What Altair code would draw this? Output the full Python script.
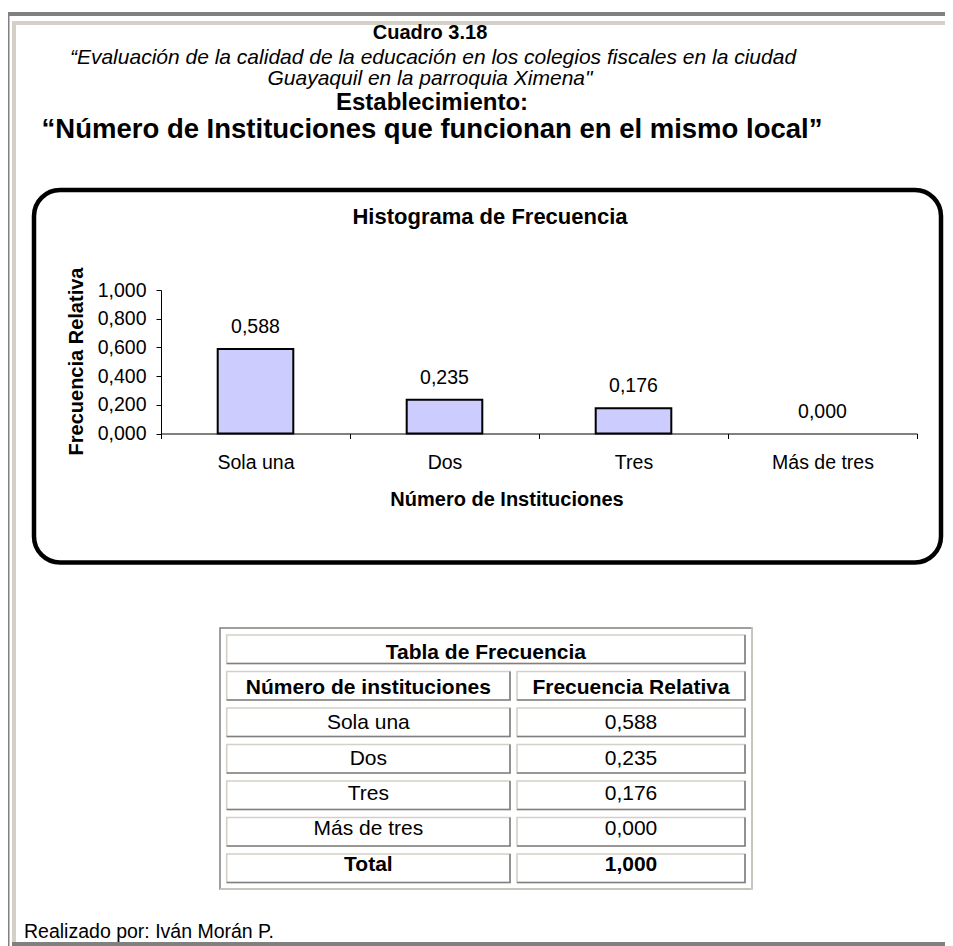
import altair as alt
import pandas as pd

# ---------------- data ----------------
categories = ["Sola una", "Dos", "Tres", "Más de tres"]
rel_freq = [0.588, 0.235, 0.176, 0.000]
total_freq = 1.000
y_ticks = [0.0, 0.2, 0.4, 0.6, 0.8, 1.0]

cuadro = "Cuadro 3.18"
subtitle_1 = "“Evaluación de la calidad de la educación en los colegios fiscales en la ciudad"
subtitle_2 = "Guayaquil en la parroquia Ximena\""
heading_1 = "Establecimiento:"
heading_2 = "“Número de Instituciones que funcionan en el mismo local”"
chart_title = "Histograma de Frecuencia"
x_title = "Número de Instituciones"
y_title = "Frecuencia Relativa"
table_title = "Tabla de Frecuencia"
table_head = ["Número de instituciones", "Frecuencia Relativa"]
total_label = "Total"
footer = "Realizado por: Iván Morán P."

# ---------------- layout (page pixels) ----------------
FONT = "Liberation Sans"
PLOT_X0, PLOT_Y0 = 161, 290
PLOT_W, PLOT_H = 756, 143.5
CHART_W, CHART_H = 937, 938
DARK, LIGHT = "#808080", "#d4d0c8"


def px(x):
    return x - PLOT_X0


def py(y):
    return y - PLOT_Y0


one = alt.Data(values=[{"k": 1}])


def rect(x0, y0, x1, y1, **kw):
    return alt.Chart(one).mark_rect(**kw).encode(
        x=alt.value(px(x0)), x2=alt.value(px(x1)),
        y=alt.value(py(y0)), y2=alt.value(py(y1)))


def label(text, x, y, size, weight="normal", style="normal", align="center",
          baseline="alphabetic", angle=None):
    kw = dict(text=text, font=FONT, fontSize=size, fontWeight=weight,
              fontStyle=style, align=align, baseline=baseline, color="black")
    if angle is not None:
        kw["angle"] = angle
    return alt.Chart(one).mark_text(**kw).encode(x=alt.value(px(x)), y=alt.value(py(y)))


fmt_expr = "replace(format({}, '.3f'), '.', ',')"

layers = []

# page frame
layers += [
    rect(8, 12, 960, 16, color=DARK),
    rect(12, 21, 960, 25, color=LIGHT),
    rect(8, 12, 9.5, 950, color=DARK),
    rect(12, 21, 16, 942, color=LIGHT),
    rect(12, 942, 960, 946, color=DARK),
]

# headings
layers += [
    label(cuadro, 430, 39, 20, weight="bold"),
    label(subtitle_1, 433, 63.5, 21, style="italic"),
    label(subtitle_2, 430, 85, 21, style="italic"),
    label(heading_1, 432, 109.5, 24, weight="bold"),
    label(heading_2, 432, 138, 27.5, weight="bold"),
]

# rounded chart box
layers.append(
    alt.Chart(one).mark_rect(fillOpacity=0, stroke="black", strokeWidth=4.5, cornerRadius=26).encode(
        x=alt.value(px(34)), x2=alt.value(px(941)), y=alt.value(py(190)), y2=alt.value(py(562.5)))
)

layers += [
    label(chart_title, 490, 217, 22, weight="bold", baseline="middle"),
    label(x_title, 507, 500, 20, weight="bold", baseline="middle"),
    label(y_title, 76.5, 361.5, 20, weight="bold", baseline="middle", angle=270),
]

# bar chart
bar_df = pd.DataFrame({"cat": categories, "val": rel_freq})
xenc = alt.X(
    "cat:N", sort=categories, scale=alt.Scale(paddingInner=0, paddingOuter=0),
    axis=alt.Axis(title=None, labelAngle=0, tickBand="extent", tickSize=5, tickColor="black",
                  domainColor="black", labelColor="black", labelFont=FONT, labelFontSize=19.5,
                  labelPadding=15, grid=False, domainWidth=1, tickWidth=1))
yenc = alt.Y(
    "val:Q", scale=alt.Scale(domain=[0, 1], nice=False),
    axis=alt.Axis(title=None, values=y_ticks, labelExpr=fmt_expr.format("datum.value"),
                  tickSize=5, tickColor="black", domainColor="black", labelColor="black",
                  labelFont=FONT, labelFontSize=19.5, labelPadding=10, grid=False,
                  domainWidth=1, tickWidth=1))
bars = alt.Chart(bar_df).mark_bar(width={"band": 0.4}, fill="#ccccff", stroke="black").encode(
    x=xenc, y=yenc,
    strokeWidth=alt.condition("datum.val > 0", alt.value(2), alt.value(0)))
vals = alt.Chart(bar_df).transform_calculate(lbl=fmt_expr.format("datum.val")).mark_text(
    font=FONT, fontSize=19.5, color="black", baseline="middle", dy=-22).encode(
    x=alt.X("cat:N", sort=categories, scale=alt.Scale(paddingInner=0, paddingOuter=0), axis=None),
    y=alt.Y("val:Q", scale=alt.Scale(domain=[0, 1], nice=False), axis=None),
    text="lbl:N")
layers += [bars, vals]

# table
layers += [
    alt.Chart(one).mark_rect(fillOpacity=0, stroke=DARK, strokeWidth=1.5).encode(
        x=alt.value(px(220)), x2=alt.value(px(752)), y=alt.value(py(628)), y2=alt.value(py(889))),
    rect(220, 888.2, 752.8, 889.8, color=LIGHT),
    rect(751.2, 627.2, 752.8, 889.8, color=LIGHT),
]

row_keys = ["title", "header"] + categories + ["total"]
tbl_df = pd.DataFrame({
    "row": row_keys,
    "c1": [table_title, table_head[0]] + categories + [total_label],
    "v": [None, None] + rel_freq + [total_freq],
})
tbl_scale = alt.Scale(domain=row_keys, range=[py(635), py(882.5)],
                      paddingInner=8 / 36.5, paddingOuter=0)
ty = alt.Y("row:N", scale=tbl_scale, axis=None)
ty_end = alt.Y("row:N", scale=tbl_scale, axis=None, bandPosition=1)

COL1 = (226.7, 510)
COL2 = (517, 745)
SPAN = (226.7, 745)


def cell_layers(x0, x1, flt):
    base = alt.Chart(tbl_df).transform_filter(flt)
    return [
        base.mark_rect(fill="white", stroke=LIGHT, strokeWidth=1.6).encode(
            x=alt.value(px(x0)), x2=alt.value(px(x1)), y=ty),
        base.mark_rule(stroke=DARK, strokeWidth=1.6).encode(
            x=alt.value(px(x0)), x2=alt.value(px(x1) + 0.8), y=ty_end),
        base.mark_rect(fill=DARK).encode(
            x=alt.value(px(x1) - 0.8), x2=alt.value(px(x1) + 0.8), y=ty),
    ]


layers += cell_layers(*SPAN, "datum.row == 'title'")
layers += cell_layers(*COL1, "datum.row != 'title'")
layers += cell_layers(*COL2, "datum.row != 'title'")

tbl_text = alt.Chart(tbl_df).transform_calculate(
    c2="isValid(datum.v) ? " + fmt_expr.format("datum.v") + " : '" + table_head[1] + "'")
bold_rows = "datum.row == 'header' || datum.row == 'total'"
plain_rows = "datum.row != 'header' && datum.row != 'total' && datum.row != 'title'"
c1x = (COL1[0] + COL1[1]) / 2
c2x = (COL2[0] + COL2[1]) / 2
spx = (SPAN[0] + SPAN[1]) / 2
layers += [
    tbl_text.transform_filter("datum.row == 'title'").mark_text(
        font=FONT, fontSize=21, fontWeight="bold", color="black", baseline="middle").encode(
        x=alt.value(px(spx)), y=ty, text="c1:N"),
    tbl_text.transform_filter(bold_rows).mark_text(
        font=FONT, fontSize=21, fontWeight="bold", color="black", baseline="middle").encode(
        x=alt.value(px(c1x)), y=ty, text="c1:N"),
    tbl_text.transform_filter(bold_rows).mark_text(
        font=FONT, fontSize=21, fontWeight="bold", color="black", baseline="middle").encode(
        x=alt.value(px(c2x)), y=ty, text="c2:N"),
    tbl_text.transform_filter(plain_rows).mark_text(
        font=FONT, fontSize=21, color="black", baseline="middle").encode(
        x=alt.value(px(c1x)), y=ty, text="c1:N"),
    tbl_text.transform_filter(plain_rows).mark_text(
        font=FONT, fontSize=21, color="black", baseline="middle").encode(
        x=alt.value(px(c2x)), y=ty, text="c2:N"),
]

# footer
layers.append(label(footer, 24, 937.5, 19.5, align="left"))

chart = alt.layer(*layers).resolve_scale(x="independent", y="independent").properties(
    width=PLOT_W, height=PLOT_H,
    padding={"left": PLOT_X0 - 8, "top": PLOT_Y0 - 8,
             "right": CHART_W - (PLOT_X0 - 8) - PLOT_W,
             "bottom": CHART_H - (PLOT_Y0 - 8) - PLOT_H},
    autosize=alt.AutoSizeParams(type="none"),
    background="white",
).configure_view(stroke=None)

chart.save("out.html", embed_options={"renderer": "svg", "actions": False})
